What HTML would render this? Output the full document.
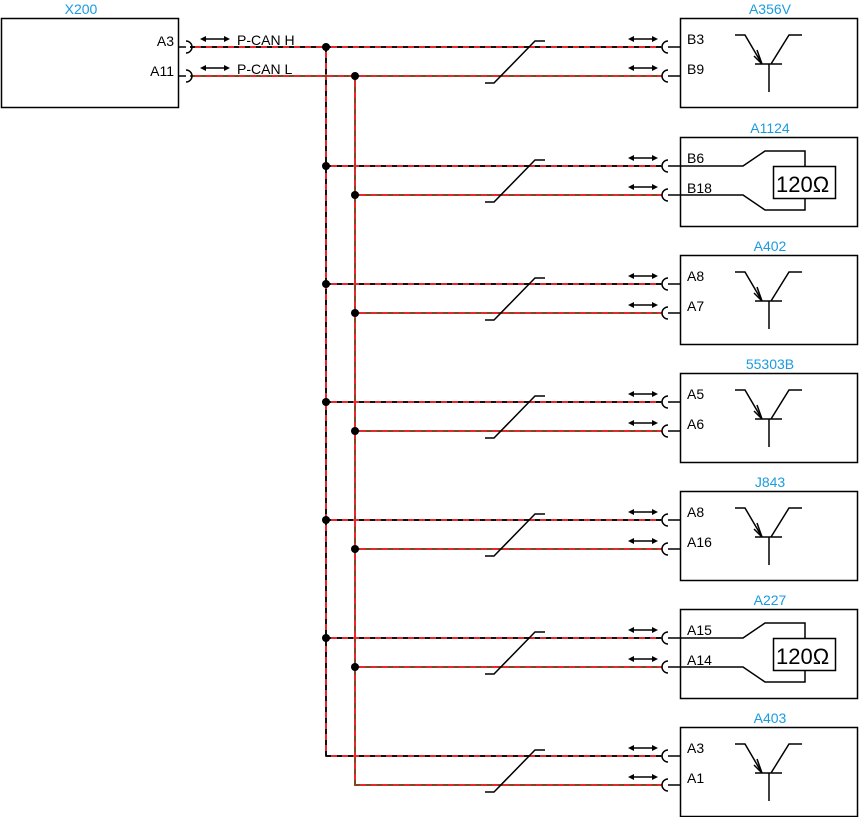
<!DOCTYPE html>
<html><head><meta charset="utf-8"><style>
html,body{margin:0;padding:0;background:#fff}
svg{display:block}
text{font-family:"Liberation Sans",sans-serif;font-size:14px;fill:#000}
.t{fill:#1a9be0;font-size:14px;text-anchor:middle}
</style></head><body>
<svg width="859" height="817" viewBox="0 0 859 817">
<defs>
<g id="arr"><line x1="632" y1="0" x2="654" y2="0" stroke="#000" stroke-width="1.5"/><path d="M628,0 l6,-3 v6z M658,0 l-6,-3 v6z" fill="#000"/></g>
<g id="wires">
<line x1="326" y1="47" x2="662" y2="47" stroke="#e8262b" stroke-width="2"/>
<line x1="326" y1="47" x2="662" y2="47" stroke="#111" stroke-width="2" stroke-dasharray="5,6"/>
<line x1="355" y1="76" x2="662" y2="76" stroke="#e8262b" stroke-width="2"/>
<line x1="355" y1="76" x2="662" y2="76" stroke="#7a4a22" stroke-width="2" stroke-dasharray="5,6"/>
<path d="M485,83 h9 L535,41 h10" fill="none" stroke="#000" stroke-width="1.5"/>
<path d="M668,41 A6,6 0 0 0 668,53 M668,47 H680 M668,70 A6,6 0 0 0 668,82 M668,76 H680" fill="none" stroke="#000" stroke-width="1.5"/>
<use href="#arr" y="39"/><use href="#arr" y="68"/>
<rect x="680.5" y="18.5" width="177" height="89" fill="none" stroke="#000" stroke-width="1.5"/>
</g>
<g id="tr" fill="none" stroke="#000" stroke-width="1.5">
<path d="M735,35 h10 L762,64 M755,64 h27 M769,64 v28 M771,64 L789,35 h13"/>
<path d="M754,56 L762,64 L757,50" />
</g>
<g id="res" fill="none" stroke="#000" stroke-width="1.5">
<path d="M680,47 H743 L765,32 H805 V91 H765 L743,76 H680"/>
<rect x="773.5" y="47.5" width="62" height="32" fill="#fff"/>
</g>
<g id="dots" fill="#000"><circle cx="326" cy="47" r="4"/><circle cx="355" cy="76" r="4"/></g>
</defs>

<line x1="326" y1="47" x2="326" y2="757" stroke="#e8262b" stroke-width="2"/>
<line x1="326" y1="47" x2="326" y2="757" stroke="#111" stroke-width="2" stroke-dasharray="5,6"/>
<line x1="355" y1="76" x2="355" y2="786" stroke="#e8262b" stroke-width="2"/>
<line x1="355" y1="76" x2="355" y2="786" stroke="#7a4a22" stroke-width="2" stroke-dasharray="5,6"/>

<line x1="190" y1="47" x2="326" y2="47" stroke="#e8262b" stroke-width="2"/>
<line x1="190" y1="47" x2="326" y2="47" stroke="#111" stroke-width="2" stroke-dasharray="5,6"/>
<line x1="190" y1="76" x2="355" y2="76" stroke="#e8262b" stroke-width="2"/>
<line x1="190" y1="76" x2="355" y2="76" stroke="#7a4a22" stroke-width="2" stroke-dasharray="5,6"/>
<rect x="1.5" y="18.5" width="177" height="89" fill="none" stroke="#000" stroke-width="1.5"/>
<path d="M179,47 H186 M186,41 A6,6 0 0 1 186,53 M179,76 H186 M186,70 A6,6 0 0 1 186,82" fill="none" stroke="#000" stroke-width="1.5"/>
<g transform="translate(-428,0)"><use href="#arr" y="39"/><use href="#arr" y="68"/></g>
<text class="t" x="81" y="14">X200</text>
<text x="174" y="46" text-anchor="end">A3</text>
<text x="174" y="76" text-anchor="end">A11</text>
<text x="237" y="45">P-CAN H</text>
<text x="237" y="74">P-CAN L</text>

<g><use href="#wires"/><use href="#dots"/><use href="#tr"/>
<text class="t" x="770" y="14">A356V</text><text x="687" y="44">B3</text><text x="687" y="74">B9</text></g>

<g transform="translate(0,119)"><use href="#wires"/><use href="#dots"/><use href="#res"/>
<text x="776" y="73" style="font-size:22px">120Ω</text>
<text class="t" x="770" y="14">A1124</text><text x="687" y="44">B6</text><text x="687" y="74">B18</text></g>

<g transform="translate(0,237)"><use href="#wires"/><use href="#dots"/><use href="#tr"/>
<text class="t" x="770" y="14">A402</text><text x="687" y="44">A8</text><text x="687" y="74">A7</text></g>

<g transform="translate(0,355)"><use href="#wires"/><use href="#dots"/><use href="#tr"/>
<text class="t" x="770" y="14">55303B</text><text x="687" y="44">A5</text><text x="687" y="74">A6</text></g>

<g transform="translate(0,473)"><use href="#wires"/><use href="#dots"/><use href="#tr"/>
<text class="t" x="770" y="14">J843</text><text x="687" y="44">A8</text><text x="687" y="74">A16</text></g>

<g transform="translate(0,591)"><use href="#wires"/><use href="#dots"/><use href="#res"/>
<text x="776" y="73" style="font-size:22px">120Ω</text>
<text class="t" x="770" y="14">A227</text><text x="687" y="44">A15</text><text x="687" y="74">A14</text></g>

<g transform="translate(0,709)"><use href="#wires"/><use href="#tr"/>
<text class="t" x="770" y="14">A403</text><text x="687" y="44">A3</text><text x="687" y="74">A1</text></g>
</svg>
</body></html>
